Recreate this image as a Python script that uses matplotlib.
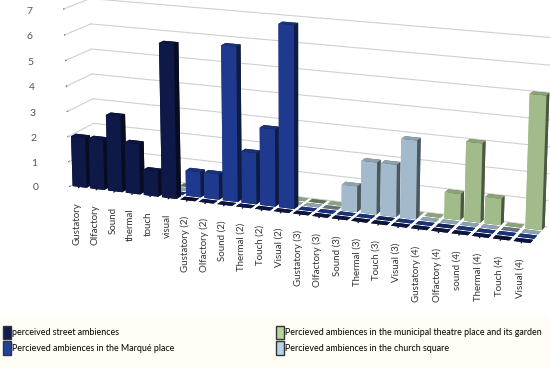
import numpy as np
import matplotlib
matplotlib.use("Agg")
import matplotlib.pyplot as plt
from matplotlib.patches import Patch, Rectangle

plt.rcParams['font.family'] = ['Lato', 'DejaVu Sans']

categories = ["Gustatory", "Olfactory", "Sound", "thermal", "touch", "visual",
              "Gustatory (2)", "Olfactory (2)", "Sound (2)", "Thermal (2)", "Touch (2)", "Visual (2)",
              "Gustatory (3)", "Olfactory (3)", "Sound (3)", "Thermal (3)", "Touch (3)", "Visual (3)",
              "Gustatory (4)", "Olfactory (4)", "sound (4)", "Thermal (4)", "Touch (4)", "Visual (4)"]

street  = [2, 2, 3, 2, 1, 6,  0, 0, 0, 0, 0, 0,  0, 0, 0, 0, 0, 0,  0, 0, 0, 0, 0, 0]
marque  = [0, 0, 0, 0, 0, 0,  1, 1, 6, 2, 3, 7,  0, 0, 0, 0, 0, 0,  0, 0, 0, 0, 0, 0]
church  = [0, 0, 0, 0, 0, 0,  0, 0, 0, 0, 0, 0,  0, 0, 1, 2, 2, 3,  0, 0, 0, 0, 0, 0]
theatre = [0, 0, 0, 0, 0, 0,  0, 0, 0, 0, 0, 0,  0, 0, 0, 0, 0, 0,  0, 1, 3, 1, 0, 5]

series_names = ["perceived street ambiences",
                "Percieved ambiences in the Marqué place",
                "Percieved ambiences in the church square",
                "Percieved ambiences in the municipal theatre place and its garden"]
series_vals = [street, marque, church, theatre]
colors = ["#101c52", "#2240a0", "#b7d3e6", "#b6d59c"]

fig = plt.figure(figsize=(5.5, 3.76), dpi=100)
ax = fig.add_axes([0.05, 0.318, 0.98, 0.73], projection='3d')

n = len(categories)
xs, ys, zs, cs = [], [], [], []
for j, vals in enumerate(series_vals):
    for i, v in enumerate(vals):
        xs.append(i)
        ys.append(j)
        zs.append(v)
        cs.append(colors[j])
xs = np.array(xs, dtype=float)
ys = np.array(ys, dtype=float)
zs = np.array(zs, dtype=float)

bars = ax.bar3d(xs + 0.1, ys + 0.12, np.zeros_like(zs), 0.8, 0.76, zs,
                color=cs, shade=True, edgecolor='none')
bars.set_clip_on(False)

ax.set_xlim(0, n)
ax.set_ylim(0, 4)
ax.set_zlim(0, 7)
ax.set_proj_type('persp', focal_length=1.3)
ax.view_init(elev=15, azim=-68)
ax.set_box_aspect((26.8, 3.0, 10.2), zoom=1.895)

ax.grid(False)
for a in (ax.xaxis, ax.yaxis, ax.zaxis):
    a.set_pane_color((1, 1, 1, 0))
    a.line.set_color((1, 1, 1, 0))

# gridlines on the back and left walls
for z in range(8):
    ax.plot([0, n], [4, 4], [z, z], color='#d0d0d0', lw=0.8, clip_on=False)
    ax.plot([0, 0], [0, 4], [z, z], color='#d0d0d0', lw=0.8, clip_on=False)

ax.set_xticks(np.arange(n) + 0.5)
ax.set_xticklabels(categories, rotation=90, fontsize=7, color='#333333')
ax.set_yticks([])
ax.set_zticks(range(8))
ax.set_zticklabels([str(z) for z in range(8)], fontsize=7.5, color='#555555')
ax.zaxis.set_ticks_position('lower')
ax.tick_params(axis='both', length=0, pad=0)

# legend panel
fig.patches.append(Rectangle((0.0, 0.025), 1.0, 0.14, transform=fig.transFigure,
                             facecolor='#fffdf6', edgecolor='none', zorder=0))
handles = [Patch(facecolor=colors[0], edgecolor='#333333', label=series_names[0]),
           Patch(facecolor=colors[1], edgecolor='#333333', label=series_names[1]),
           Patch(facecolor=colors[3], edgecolor='#333333', label=series_names[3]),
           Patch(facecolor=colors[2], edgecolor='#333333', label=series_names[2])]
leg = fig.legend(handles=handles, loc='lower left', bbox_to_anchor=(0.0, 0.05),
                 ncol=2, fontsize=6.4, frameon=False, handlelength=0.9,
                 handleheight=1.9, handletextpad=0.15, borderaxespad=0,
                 columnspacing=11.4, labelspacing=0.25, borderpad=0.3)

fig.savefig("out.png", dpi=100)
